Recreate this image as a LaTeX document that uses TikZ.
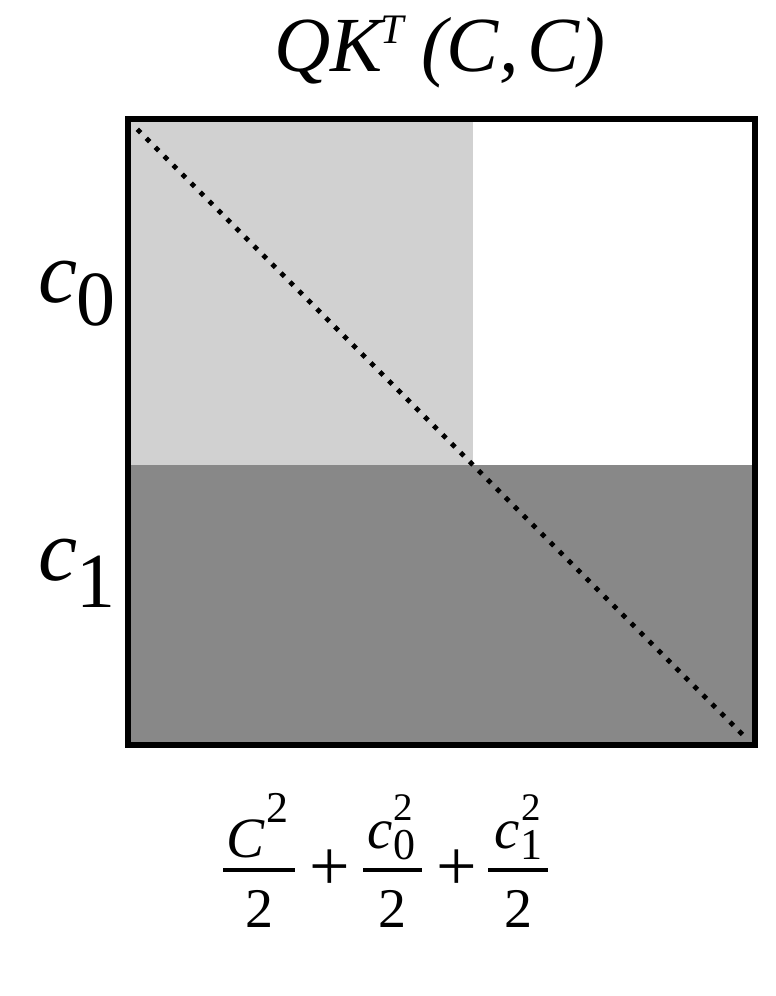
\documentclass[tikz,border=0pt]{standalone}
\usepackage{fontspec}
\setmainfont{Liberation Serif}
\definecolor{lightg}{HTML}{D1D1D1}
\definecolor{darkg}{HTML}{888888}
\tikzset{
  txt/.style={inner sep=0pt, outer sep=0pt, anchor=base},
  titleit/.style={txt, font=\fontsize{78}{78}\selectfont\itshape},
  bigit/.style={txt, font=\fontsize{88}{88}\selectfont\itshape},
  bigsub/.style={txt, font=\fontsize{78}{78}\selectfont},
  fmain/.style={txt, font=\fontsize{57}{57}\selectfont\itshape},
  fnum/.style={txt, font=\fontsize{56}{56}\selectfont},
  fsup/.style={txt, font=\fontsize{39}{39}\selectfont},
  fsub/.style={txt, font=\fontsize{44}{44}\selectfont},
  fplus/.style={txt, anchor=center, font=\fontsize{72}{72}\selectfont},
  fbar/.style={line width=4.5pt},
  diag/.style={line width=4.8pt, dash pattern=on 4.8pt off 7.9pt},
  frame/.style={line width=6pt}
}
\begin{document}
\begin{tikzpicture}[x=1pt,y=-1pt]
\useasboundingbox (0,0) rectangle (776,996);
% regions
\coordinate (tl) at (128,119);
\coordinate (br) at (755,745);
\fill[lightg] (128,119) rectangle (473,465);
\fill[darkg] (128,465) rectangle (755,745);
\draw[frame] (tl) rectangle (br);
\coordinate (d0) at (137.3,129.3);
\coordinate (d1) at (745,737);
\draw[diag] (d0) -- (d1);
% title
\node[titleit, anchor=base west] (tQK) at (274,71) {QK};
\node[txt, anchor=base west, font=\fontsize{42}{42}\selectfont\itshape] (tT) at (380,43) {T};
\node[titleit, anchor=base west] (tCa) at (421,71) {(C,};
\node[titleit, anchor=base east] (tCb) at (605,71) {C)};
% row labels
\node[bigit, anchor=base west] (c0) at (38,302) {c};
\node[bigsub, anchor=base west] (c0s) at (76,325) {0};
\node[bigit, anchor=base west] (c1) at (38,580) {c};
\node[bigsub, anchor=base west] (c1s) at (76,607) {1};
% formula
\node[fmain] (n1) at (246,857) {C};
\node[fsub] (n1s) at (277,822) {2};
\coordinate (b1a) at (223,870);
\coordinate (b1b) at (295,870);
\draw[fbar] (b1a) -- (b1b);
\node[fnum] (d1n) at (259,927) {2};
\node[fplus] (p1) at (330,870) {+};
\node[fmain] (n2) at (380,848) {c};
\node[fsub] (n2b) at (404,859) {0};
\node[fsup] (n2s) at (403,820) {2};
\coordinate (b2a) at (363,870);
\coordinate (b2b) at (422,870);
\draw[fbar] (b2a) -- (b2b);
\node[fnum] (d2n) at (392.5,927) {2};
\node[fplus] (p2) at (456.5,870) {+};
\node[fmain] (n3) at (507,848) {c};
\node[fsub] (n3b) at (531,859) {1};
\node[fsup] (n3s) at (531,820) {2};
\coordinate (b3a) at (488,870);
\coordinate (b3b) at (548,870);
\draw[fbar] (b3a) -- (b3b);
\node[fnum] (d3n) at (518.5,927) {2};
\end{tikzpicture}
\end{document}
